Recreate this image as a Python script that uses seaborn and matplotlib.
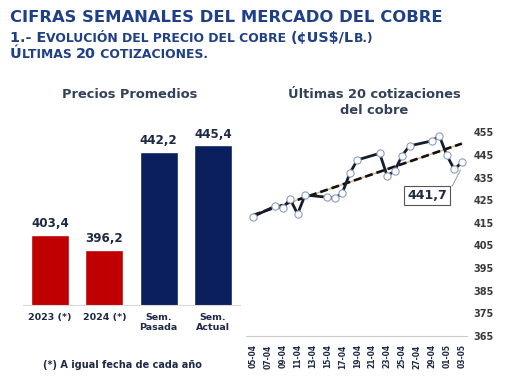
import numpy as np
import pandas as pd
import matplotlib
matplotlib.use("Agg")
import matplotlib.pyplot as plt
import matplotlib.dates as mdates
import seaborn as sns

# Left panel: average prices
bar_labels = ["2023 (*)", "2024 (*)", "Sem.\nPasada", "Sem.\nActual"]
bar_values = [403.4, 396.2, 442.2, 445.4]
bar_colors = ["#C00000", "#C00000", "#0B1F5E", "#0B1F5E"]

# Right panel: daily quotes (dd-mm-2024)
quote_dates = ["05-04", "08-04", "09-04", "10-04", "11-04", "12-04",
               "15-04", "16-04", "17-04", "18-04", "19-04",
               "22-04", "23-04", "24-04", "25-04", "26-04",
               "29-04", "30-04", "01-05", "02-05", "03-05"]
quote_values = [417.7, 422.4, 421.4, 425.5, 418.9, 427.3,
                426.3, 425.8, 428.3, 436.9, 442.8,
                445.7, 435.7, 438.0, 444.7, 449.0,
                451.2, 453.4, 444.8, 438.6, 441.7]
y_ticks = [365, 375, 385, 395, 405, 415, 425, 435, 445, 455]

W, H = 510, 382
TITLE_BLUE = "#1F3F86"
TEXT_DARK = "#1E2A44"

sns.set_theme(style="white")
plt.rcParams["font.family"] = ["DejaVu Sans"]

fig = plt.figure(figsize=(W / 100, H / 100), dpi=100)
fig.patch.set_facecolor("white")


def box(left, top, right, bottom):
    return [left / W, 1 - bottom / H, (right - left) / W, (bottom - top) / H]


# ---- header with fake small caps
renderer = fig.canvas.get_renderer()


def text_width(s, size):
    t1 = fig.text(0, 0, "x" + s + "x", fontsize=size, fontweight="bold")
    t2 = fig.text(0, 0, "xx", fontsize=size, fontweight="bold")
    w = t1.get_window_extent(renderer).width - t2.get_window_extent(renderer).width
    t1.remove()
    t2.remove()
    return w


def draw_runs(x_px, y_px, runs):
    x = x_px
    for s, size in runs:
        fig.text(x / W, 1 - y_px / H, s, fontsize=size, fontweight="bold",
                 color=TITLE_BLUE, va="baseline", ha="left")
        x += text_width(s, size)


fig.text(10 / W, 1 - 22 / H, "CIFRAS SEMANALES DEL MERCADO DEL COBRE",
         fontsize=11.8, fontweight="bold", color=TITLE_BLUE, va="baseline")
big, small = 10.4, 8.9
draw_runs(10, 42, [("1.- E", big), ("VOLUCIÓN DEL PRECIO DEL COBRE ", small),
                   ("(¢US$/L", big), ("B.)", small)])
draw_runs(10, 57.5, [("Ú", big), ("LTIMAS ", small), ("20", big),
                     (" COTIZACIONES.", small)])

# ---- left panel: bars
ax1 = fig.add_axes(box(23, 120, 240, 305))
df_bars = pd.DataFrame({"cat": bar_labels, "val": bar_values})
sns.barplot(data=df_bars, x="cat", y="val", hue="cat", palette=bar_colors,
            legend=False, width=0.7, ax=ax1, saturation=1)
ax1.set_ylim(370.3, 370.3 + 185 / 2.128)
ax1.set_xlim(-0.5, 3.5)
for i, v in enumerate(bar_values):
    ax1.text(i, v + 2.2, f"{v:.1f}".replace(".", ","), ha="center", va="bottom",
             fontsize=8.6, fontweight="bold", color=TEXT_DARK)
ax1.set_xlabel("")
ax1.set_ylabel("")
ax1.set_yticks([])
ax1.tick_params(axis="x", length=0, pad=6, labelsize=6.8, labelcolor=TEXT_DARK)
for lab in ax1.get_xticklabels():
    lab.set_fontweight("bold")
    lab.set_linespacing(1.1)
for sp in ["top", "left", "right"]:
    ax1.spines[sp].set_visible(False)
ax1.spines["bottom"].set_color("#D9D9D9")
ax1.spines["bottom"].set_linewidth(0.8)
ax1.set_facecolor("none")

fig.text(130 / W, 1 - 94 / H, "Precios Promedios", ha="center", va="center",
         fontsize=9.4, fontweight="bold", color="#33405A")
fig.text(122 / W, 1 - 365 / H, "(*) A igual fecha de cada año", ha="center",
         va="center", fontsize=7, fontweight="bold", color=TEXT_DARK)

# ---- right panel: daily quotes
ax2 = fig.add_axes(box(246, 132.3, 468, 336))
df_q = pd.DataFrame({
    "fecha": pd.to_datetime([d + "-2024" for d in quote_dates], format="%d-%m-%Y"),
    "precio": quote_values,
})
xnum = mdates.date2num(df_q["fecha"])
coef = np.polyfit(xnum, df_q["precio"], 1)
trend = np.polyval(coef, xnum[[0, -1]])
ax2.plot(df_q["fecha"].iloc[[0, -1]], trend, color="#D8B58C", lw=1.2, zorder=2)
ax2.plot(df_q["fecha"].iloc[[0, -1]], trend, color="#111111", lw=1.9,
         dashes=(3, 1.5), zorder=3)
sns.lineplot(data=df_q, x="fecha", y="precio", ax=ax2, color="#151C2B", lw=2.0,
             marker="o", markersize=5.2, markerfacecolor="white",
             markeredgecolor="#8C9CC0", markeredgewidth=0.8, zorder=4)

ax2.set_ylim(365, 455)
x0 = df_q["fecha"].iloc[0]
x1 = df_q["fecha"].iloc[-1]
ax2.set_xlim(x0 - pd.Timedelta(hours=22), x1 + pd.Timedelta(hours=20))
ax2.yaxis.tick_right()
ax2.set_yticks(y_ticks)
ax2.tick_params(axis="y", length=0, pad=4, labelsize=7, labelcolor="#3A3A3A")
for lab in ax2.get_yticklabels():
    lab.set_fontweight("bold")
tick_days = pd.date_range(x0, x1, freq="2D")
ax2.set_xticks(tick_days)
ax2.xaxis.set_major_formatter(mdates.DateFormatter("%d-%m"))
ax2.tick_params(axis="x", length=2, width=0.5, color="#CCCCCC", pad=4,
                labelsize=5.5, labelcolor=TEXT_DARK, rotation=90)
for lab in ax2.get_xticklabels():
    lab.set_fontweight("bold")
ax2.set_xlabel("")
ax2.set_ylabel("")
for sp in ["top", "left", "right"]:
    ax2.spines[sp].set_visible(False)
ax2.spines["bottom"].set_color("#CCCCCC")
ax2.spines["bottom"].set_linestyle((0, (1, 1)))
ax2.spines["bottom"].set_linewidth(0.8)
ax2.set_facecolor("none")

last_val = quote_values[-1]
ax2.annotate(f"{last_val:.1f}".replace(".", ","), xy=(x1, last_val - 2.3),
             xytext=(x1 - pd.Timedelta(days=4.6), last_val - 14.6),
             ha="center", va="center", fontsize=9, fontweight="bold",
             color=TEXT_DARK,
             bbox=dict(boxstyle="square,pad=0.25", fc="white", ec="#555555", lw=0.8),
             arrowprops=dict(arrowstyle="-", color="#888888", lw=0.6,
                             relpos=(1.0, 0.5)))

fig.text(374 / W, 1 - 95 / H, "Últimas 20 cotizaciones", ha="center",
         va="center", fontsize=9.4, fontweight="bold", color="#33405A")
fig.text(374 / W, 1 - 110.5 / H, "del cobre", ha="center", va="center",
         fontsize=9.4, fontweight="bold", color="#33405A")

fig.savefig("out.png", dpi=100, facecolor="white")
